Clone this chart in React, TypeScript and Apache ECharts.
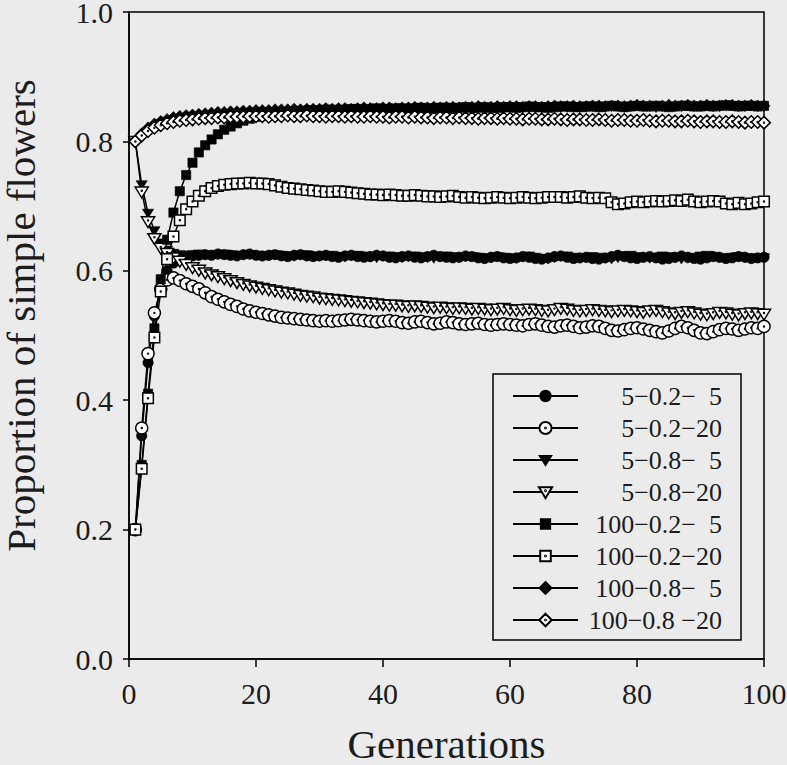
import React, { useEffect, useRef } from "react";
import * as echarts from "echarts";

const generations: number[] = Array.from({ length: 100 }, (_, i) => i + 1);

const seriesNames: string[] = [
  "5−0.2−\u20025",
  "5−0.2−20",
  "5−0.8−\u20025",
  "5−0.8−20",
  "100−0.2−\u20025",
  "100−0.2−20",
  "100−0.8−\u20025",
  "100−0.8 −20",
];

const s_5_02_5: number[] = [
  0.200, 0.345, 0.458, 0.530, 0.575, 0.600, 0.612, 0.618, 0.621, 0.623,
  0.624, 0.625, 0.624, 0.626, 0.625, 0.624, 0.623, 0.625, 0.626, 0.624,
  0.623, 0.624, 0.625, 0.623, 0.622, 0.624, 0.625, 0.623, 0.622, 0.623,
  0.624, 0.622, 0.621, 0.623, 0.624, 0.622, 0.621, 0.622, 0.624, 0.623,
  0.621, 0.620, 0.622, 0.623, 0.621, 0.620, 0.622, 0.624, 0.622, 0.621,
  0.620, 0.621, 0.623, 0.622, 0.620, 0.619, 0.621, 0.622, 0.620, 0.619,
  0.620, 0.622, 0.621, 0.619, 0.618, 0.620, 0.622, 0.623, 0.621, 0.619,
  0.620, 0.621, 0.619, 0.618, 0.620, 0.622, 0.624, 0.622, 0.620, 0.619,
  0.621, 0.622, 0.620, 0.618, 0.619, 0.621, 0.623, 0.621, 0.619, 0.618,
  0.620, 0.622, 0.621, 0.619, 0.620, 0.622, 0.621, 0.619, 0.620, 0.621,
];

const s_5_02_20: number[] = [
  0.200, 0.357, 0.472, 0.535, 0.572, 0.586, 0.589, 0.585, 0.580, 0.576,
  0.572, 0.566, 0.560, 0.556, 0.552, 0.548, 0.545, 0.541, 0.538, 0.536,
  0.534, 0.532, 0.530, 0.528, 0.527, 0.526, 0.525, 0.524, 0.523, 0.522,
  0.523, 0.522, 0.523, 0.524, 0.525, 0.524, 0.523, 0.522, 0.521, 0.522,
  0.523, 0.522, 0.520, 0.519, 0.521, 0.522, 0.520, 0.518, 0.519, 0.521,
  0.520, 0.518, 0.517, 0.518, 0.519, 0.517, 0.516, 0.517, 0.518, 0.517,
  0.516, 0.515, 0.517, 0.518, 0.516, 0.514, 0.513, 0.515, 0.516, 0.514,
  0.512, 0.513, 0.515, 0.514, 0.511, 0.508, 0.507, 0.509, 0.511, 0.512,
  0.510, 0.508, 0.506, 0.504, 0.507, 0.511, 0.514, 0.512, 0.508, 0.504,
  0.503, 0.506, 0.509, 0.511, 0.510, 0.508, 0.510, 0.512, 0.511, 0.514,
];

const s_5_08_5: number[] = [
  0.800, 0.733, 0.689, 0.662, 0.643, 0.632, 0.627, 0.625, 0.624, 0.625,
  0.626, 0.625, 0.624, 0.625, 0.626, 0.625, 0.623, 0.624, 0.625, 0.624,
  0.622, 0.623, 0.625, 0.624, 0.623, 0.622, 0.624, 0.625, 0.623, 0.622,
  0.623, 0.624, 0.622, 0.621, 0.623, 0.624, 0.623, 0.621, 0.620, 0.622,
  0.623, 0.622, 0.620, 0.621, 0.623, 0.622, 0.620, 0.619, 0.621, 0.623,
  0.622, 0.620, 0.621, 0.622, 0.621, 0.619, 0.620, 0.622, 0.621, 0.620,
  0.619, 0.621, 0.623, 0.621, 0.619, 0.618, 0.620, 0.622, 0.623, 0.621,
  0.619, 0.620, 0.622, 0.621, 0.619, 0.618, 0.620, 0.623, 0.624, 0.622,
  0.620, 0.619, 0.621, 0.623, 0.622, 0.620, 0.618, 0.619, 0.621, 0.623,
  0.624, 0.622, 0.620, 0.619, 0.621, 0.622, 0.620, 0.619, 0.620, 0.620,
];

const s_5_08_20: number[] = [
  0.800, 0.722, 0.676, 0.650, 0.635, 0.627, 0.620, 0.615, 0.610, 0.605,
  0.601, 0.597, 0.594, 0.591, 0.588, 0.585, 0.582, 0.579, 0.577, 0.575,
  0.573, 0.571, 0.569, 0.567, 0.566, 0.564, 0.562, 0.561, 0.560, 0.558,
  0.557, 0.556, 0.555, 0.554, 0.553, 0.552, 0.551, 0.550, 0.549, 0.548,
  0.547, 0.547, 0.546, 0.545, 0.546, 0.545, 0.544, 0.543, 0.544, 0.543,
  0.542, 0.543, 0.542, 0.541, 0.542, 0.541, 0.540, 0.541, 0.542, 0.540,
  0.539, 0.540, 0.541, 0.540, 0.539, 0.538, 0.540, 0.542, 0.541, 0.539,
  0.538, 0.539, 0.540, 0.539, 0.538, 0.537, 0.538, 0.539, 0.538, 0.537,
  0.536, 0.538, 0.539, 0.537, 0.535, 0.534, 0.536, 0.537, 0.535, 0.533,
  0.532, 0.534, 0.536, 0.535, 0.533, 0.532, 0.534, 0.535, 0.534, 0.533,
];

const s_100_02_5: number[] = [
  0.200, 0.300, 0.410, 0.511, 0.587, 0.648, 0.690, 0.723, 0.748, 0.767,
  0.783, 0.794, 0.803, 0.811, 0.818, 0.823, 0.828, 0.832, 0.835, 0.838,
  0.840, 0.842, 0.843, 0.844, 0.845, 0.846, 0.847, 0.847, 0.848, 0.848,
  0.849, 0.849, 0.848, 0.849, 0.850, 0.850, 0.849, 0.850, 0.851, 0.850,
  0.850, 0.851, 0.851, 0.850, 0.851, 0.852, 0.851, 0.851, 0.852, 0.852,
  0.851, 0.852, 0.853, 0.852, 0.852, 0.853, 0.852, 0.852, 0.853, 0.853,
  0.852, 0.853, 0.854, 0.853, 0.853, 0.852, 0.853, 0.854, 0.854, 0.853,
  0.853, 0.854, 0.854, 0.853, 0.854, 0.855, 0.854, 0.853, 0.854, 0.855,
  0.854, 0.854, 0.855, 0.854, 0.853, 0.854, 0.855, 0.855, 0.854, 0.854,
  0.855, 0.854, 0.855, 0.856, 0.855, 0.854, 0.855, 0.855, 0.854, 0.855,
];

const s_100_02_20: number[] = [
  0.200, 0.294, 0.403, 0.497, 0.568, 0.618, 0.653, 0.678, 0.695, 0.707,
  0.716, 0.723, 0.728, 0.731, 0.733, 0.734, 0.735, 0.735, 0.736, 0.735,
  0.735, 0.734, 0.732, 0.730, 0.728, 0.727, 0.726, 0.725, 0.724, 0.723,
  0.722, 0.722, 0.723, 0.722, 0.721, 0.720, 0.719, 0.718, 0.718, 0.717,
  0.718, 0.717, 0.716, 0.716, 0.717, 0.716, 0.715, 0.715, 0.714, 0.715,
  0.716, 0.714, 0.713, 0.714, 0.713, 0.712, 0.713, 0.714, 0.713, 0.712,
  0.713, 0.714, 0.713, 0.712, 0.713, 0.714, 0.714, 0.714, 0.713, 0.714,
  0.715, 0.713, 0.712, 0.713, 0.712, 0.706, 0.703, 0.704, 0.706, 0.707,
  0.706, 0.707, 0.708, 0.707, 0.708, 0.709, 0.708, 0.710, 0.707, 0.706,
  0.707, 0.708, 0.707, 0.704, 0.703, 0.705, 0.703, 0.704, 0.706, 0.707,
];

const s_100_08_5: number[] = [
  0.800, 0.812, 0.821, 0.827, 0.831, 0.834, 0.837, 0.839, 0.840, 0.841,
  0.842, 0.843, 0.844, 0.845, 0.845, 0.846, 0.846, 0.847, 0.847, 0.848,
  0.848, 0.848, 0.849, 0.849, 0.849, 0.850, 0.849, 0.850, 0.850, 0.850,
  0.851, 0.850, 0.851, 0.851, 0.850, 0.851, 0.852, 0.851, 0.851, 0.852,
  0.852, 0.851, 0.852, 0.852, 0.853, 0.852, 0.852, 0.853, 0.852, 0.853,
  0.853, 0.852, 0.853, 0.853, 0.854, 0.853, 0.853, 0.854, 0.853, 0.854,
  0.854, 0.853, 0.854, 0.854, 0.853, 0.854, 0.855, 0.854, 0.854, 0.855,
  0.854, 0.854, 0.855, 0.855, 0.854, 0.855, 0.855, 0.854, 0.855, 0.856,
  0.855, 0.855, 0.854, 0.855, 0.856, 0.855, 0.855, 0.856, 0.855, 0.855,
  0.856, 0.855, 0.855, 0.856, 0.856, 0.855, 0.855, 0.856, 0.855, 0.855,
];

const s_100_08_20: number[] = [
  0.800, 0.809, 0.816, 0.821, 0.825, 0.828, 0.830, 0.832, 0.833, 0.834,
  0.835, 0.836, 0.836, 0.837, 0.837, 0.838, 0.838, 0.838, 0.839, 0.839,
  0.839, 0.838, 0.839, 0.839, 0.840, 0.839, 0.839, 0.840, 0.839, 0.839,
  0.838, 0.839, 0.839, 0.838, 0.839, 0.838, 0.838, 0.839, 0.838, 0.838,
  0.837, 0.838, 0.838, 0.837, 0.838, 0.837, 0.837, 0.836, 0.837, 0.837,
  0.836, 0.837, 0.836, 0.836, 0.835, 0.836, 0.836, 0.835, 0.836, 0.835,
  0.835, 0.834, 0.835, 0.835, 0.834, 0.834, 0.835, 0.834, 0.833, 0.834,
  0.834, 0.833, 0.833, 0.834, 0.833, 0.832, 0.833, 0.833, 0.832, 0.832,
  0.833, 0.832, 0.831, 0.832, 0.832, 0.831, 0.831, 0.832, 0.831, 0.830,
  0.831, 0.831, 0.830, 0.830, 0.831, 0.830, 0.829, 0.830, 0.830, 0.829,
];

const seriesValues: number[][] = [
  s_5_02_5, s_5_02_20, s_5_08_5, s_5_08_20,
  s_100_02_5, s_100_02_20, s_100_08_5, s_100_08_20,
];

const xTicks: number[] = [0, 20, 40, 60, 80, 100];

// ---- marker shapes (style only) ----
const FRAME = "M-10,-10 M10,10 ";
const circ = (cx: number, cy: number, r: number) =>
  `M${cx},${cy - r} A${r},${r} 0 1 1 ${cx},${cy + r} A${r},${r} 0 1 1 ${cx},${cy - r} Z `;
const sq = (h: number) => `M${-h},${-h} L${h},${-h} L${h},${h} L${-h},${h} Z `;
const dia = (h: number) => `M0,${-h} L${h},0 L0,${h} L${-h},0 Z `;
const tri = (hw: number, top: number, apex: number) =>
  `M${-hw},${top} L${hw},${top} L0,${apex} Z `;
const DOT = 0.6;

const symbols: string[] = [
  "path://" + FRAME + circ(0, 0, 6.5),
  "path://" + FRAME + circ(0, 0, 7.6) + circ(0, 0, DOT),
  "path://" + FRAME + tri(7, -5, 6),
  "path://" + FRAME + tri(8.2, -6, 7.5) + circ(0, -1.5, DOT),
  "path://" + FRAME + sq(5.8),
  "path://" + FRAME + sq(6.6) + circ(0, 0, DOT),
  "path://" + FRAME + dia(7.4),
  "path://" + FRAME + dia(7.8) + circ(0, 0, DOT),
];
const fills: string[] = ["#000", "#fff", "#000", "#fff", "#000", "#fff", "#000", "#fff"];

const FONT = "'Liberation Serif', 'Times New Roman', serif";
const TEXT = "#1c1c1c";
const BG = "#ebebeb";

export default function App() {
  const ref = useRef<HTMLDivElement>(null);

  useEffect(() => {
    document.body.style.margin = "0";
    document.body.style.background = BG;
    const chart = echarts.init(ref.current as HTMLDivElement, undefined, { renderer: "svg" });

    const series = seriesNames.map((name, i) => ({
      type: "line",
      name,
      data: generations.map((g, k) => [g, seriesValues[i][k]]),
      symbol: symbols[i],
      symbolSize: 16,
      showSymbol: true,
      itemStyle: {
        color: fills[i],
        borderColor: "#000",
        borderWidth: fills[i] === "#fff" ? 1.5 : 0.6,
      },
      lineStyle: { color: "#000", width: 1.5 },
      emphasis: { disabled: true },
      silent: true,
    }));

    chart.setOption({
      animation: false,
      backgroundColor: BG,
      grid: {
        left: 129,
        right: 23,
        top: 12,
        bottom: 106,
        containLabel: false,
        outerBoundsMode: "none",
        show: true,
        borderColor: "#000",
        borderWidth: 1.5,
        backgroundColor: "transparent",
      },
      legend: {
        show: true,
        orient: "vertical",
        left: 493,
        top: 374,
        padding: [9, 19, 7, 19],
        itemWidth: 65,
        itemHeight: 20,
        itemGap: 6,
        itemTextGap: 10,
        borderColor: "#000",
        borderWidth: 1.5,
        borderRadius: 0,
        backgroundColor: "transparent",
        selectedMode: false,
        data: seriesNames,
        formatter: (name: string) => `{r|${name}}`,
        textStyle: {
          fontFamily: FONT,
          fontSize: 26,
          color: TEXT,
          lineHeight: 26,
          rich: {
            r: {
              width: 139,
              align: "right",
              fontFamily: FONT,
              fontSize: 26,
              lineHeight: 26,
              color: TEXT,
            },
          },
        },
      },
      xAxis: {
        type: "value",
        min: 0,
        max: 100,
        interval: 20,
        name: "Generations",
        nameLocation: "middle",
        nameGap: 70,
        nameTextStyle: { fontFamily: FONT, fontSize: 41, color: TEXT, lineHeight: 30 },
        axisLine: { show: true, lineStyle: { color: "#000", width: 1.5 } },
        axisTick: { show: true, length: 8, lineStyle: { color: "#000", width: 1.5 } },
        splitLine: { show: false },
        axisLabel: {
          fontFamily: FONT,
          fontSize: 30,
          color: TEXT,
          margin: 19,
          formatter: (v: number) => (xTicks.includes(v) ? String(v) : ""),
        },
      },
      yAxis: {
        type: "value",
        min: 0,
        max: 1,
        interval: 0.2,
        name: "Proportion of simple flowers",
        nameLocation: "middle",
        nameGap: 91,
        nameTextStyle: {
          fontFamily: FONT,
          fontSize: 41,
          color: TEXT,
          lineHeight: 34,
          padding: [0, 0, 0, 40],
        },
        axisLine: { show: true, lineStyle: { color: "#000", width: 1.5 } },
        axisTick: { show: true, length: 6, lineStyle: { color: "#000", width: 1.5 } },
        splitLine: { show: false },
        axisLabel: {
          fontFamily: FONT,
          fontSize: 30,
          color: TEXT,
          margin: 16,
          lineHeight: 22,
          formatter: (v: number) => v.toFixed(1),
        },
      },
      series,
    });

    return () => {
      chart.dispose();
    };
  }, []);

  return <div ref={ref} style={{ width: 787, height: 765 }} />;
}
